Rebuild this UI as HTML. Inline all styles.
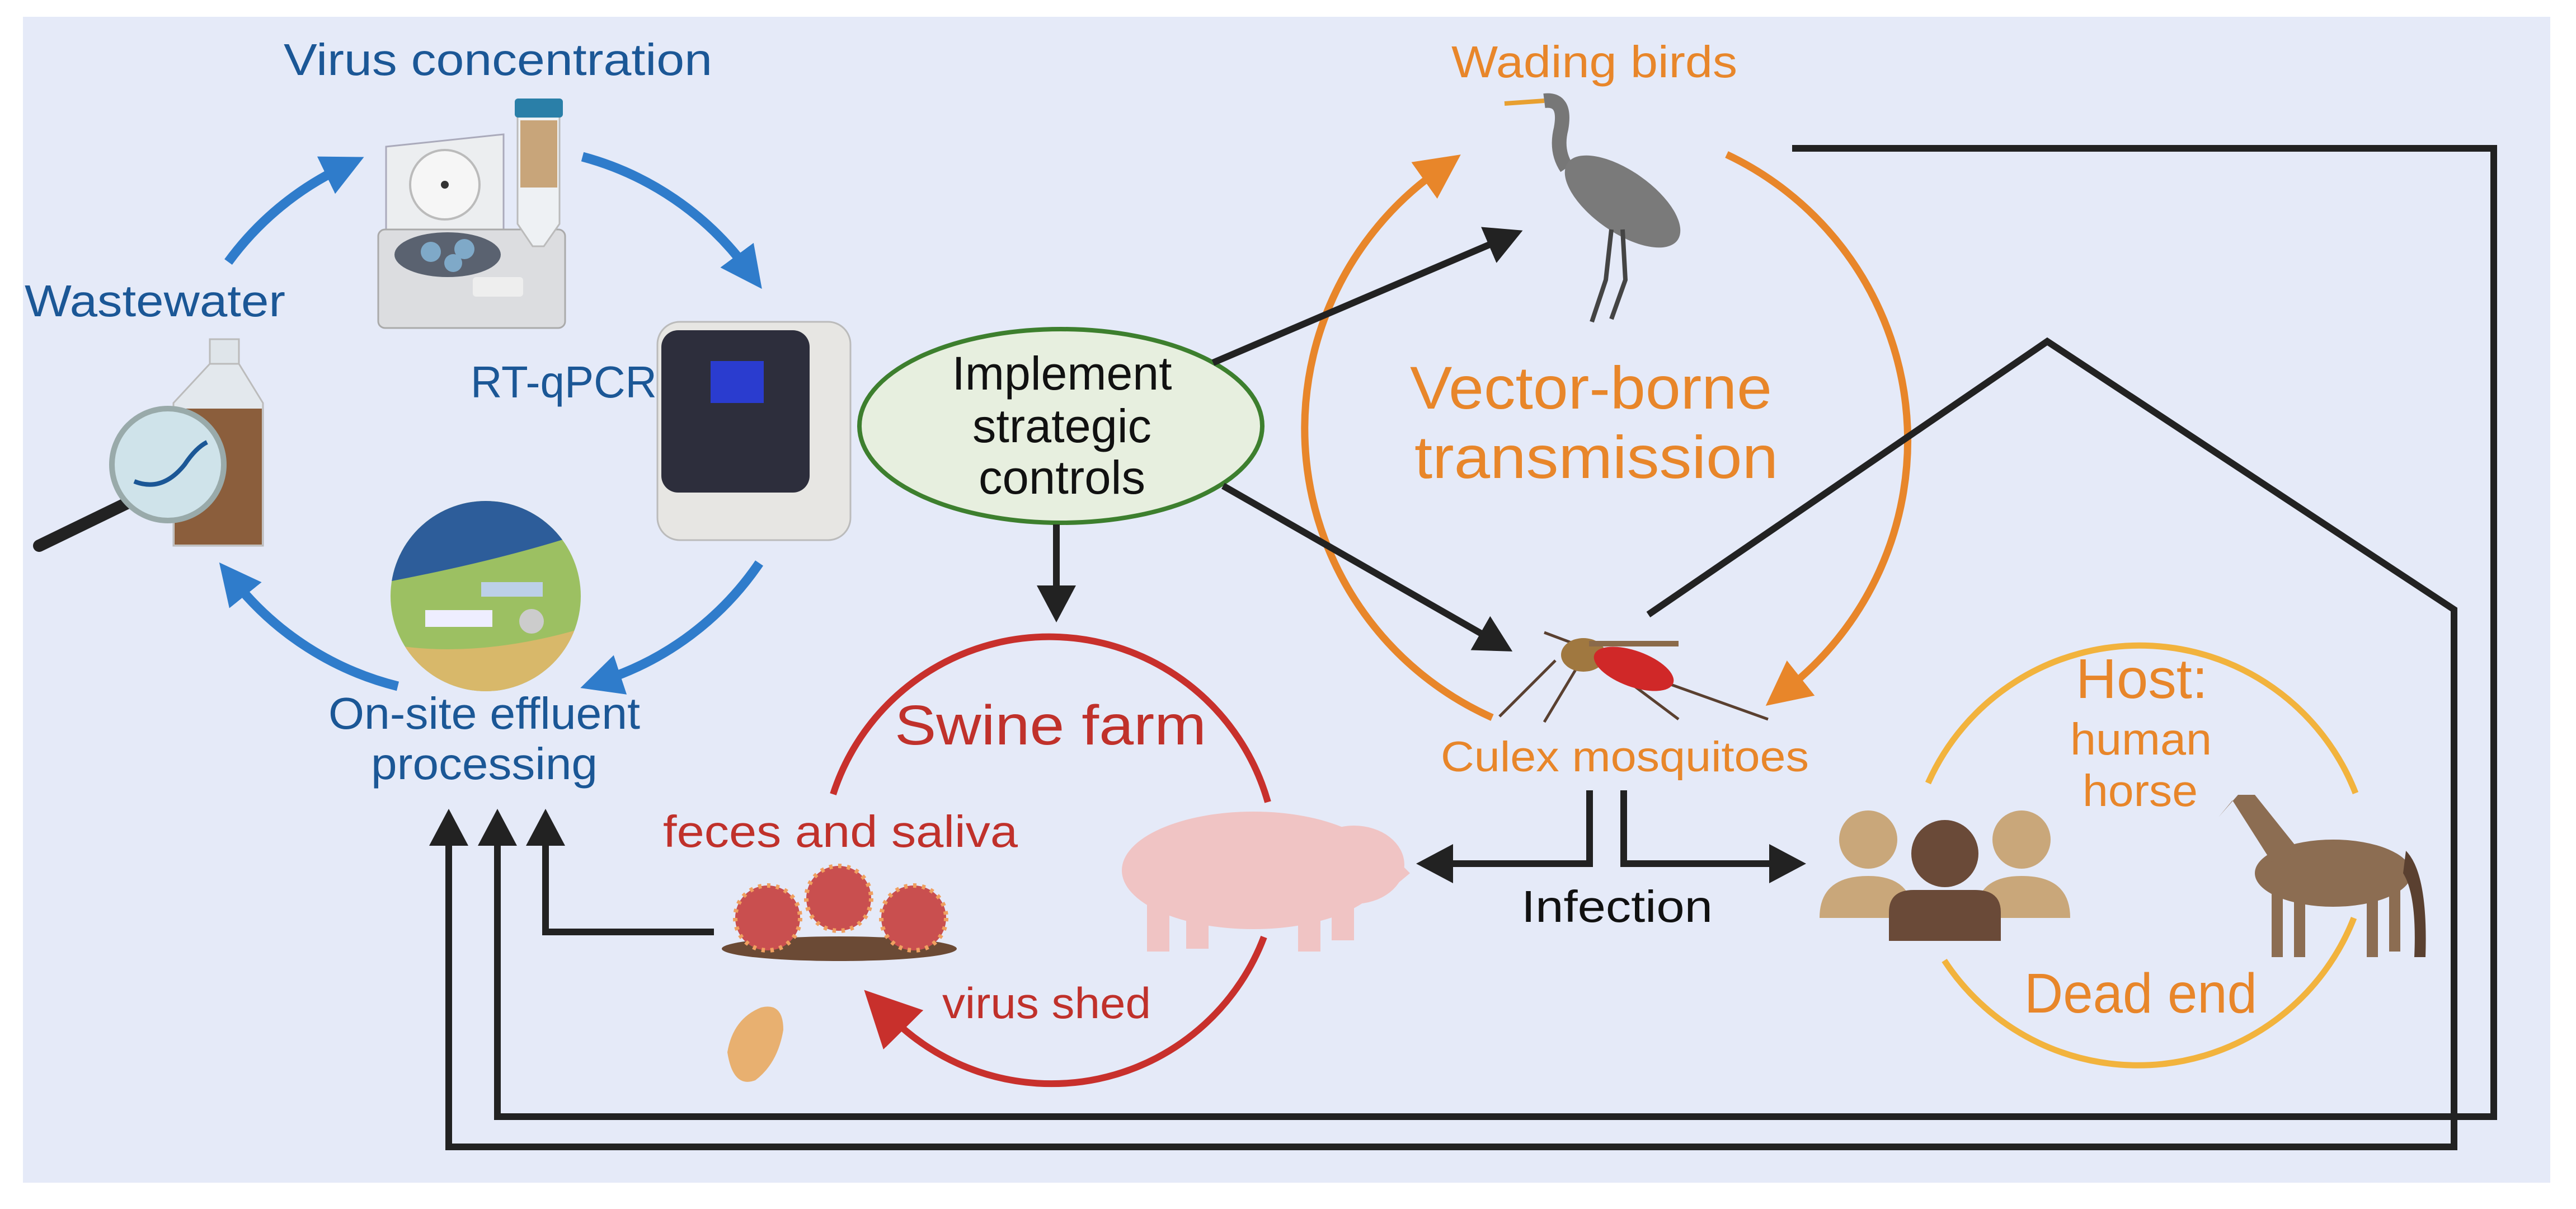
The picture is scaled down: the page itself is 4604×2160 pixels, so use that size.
<!DOCTYPE html>
<html><head><meta charset="utf-8"><style>
html,body{margin:0;padding:0;background:#fff}
svg{display:block}
text{font-family:"Liberation Sans",sans-serif}
</style></head><body>
<svg width="4604" height="2160" viewBox="0 0 4604 2160" xmlns="http://www.w3.org/2000/svg">
<defs>
<marker id="mb" markerUnits="userSpaceOnUse" markerWidth="80" markerHeight="80" refX="30" refY="37" orient="auto"><path d="M0,0 L75,37 L0,74 z" fill="#2f7ccb"/></marker>
<marker id="mk" markerUnits="userSpaceOnUse" markerWidth="80" markerHeight="80" refX="22" refY="35" orient="auto"><path d="M0,0 L66,35 L0,70 z" fill="#222"/></marker>
<marker id="mo" markerUnits="userSpaceOnUse" markerWidth="90" markerHeight="90" refX="30" refY="40" orient="auto"><path d="M0,0 L80,40 L0,80 z" fill="#e8862a"/></marker>
<marker id="mr" markerUnits="userSpaceOnUse" markerWidth="110" markerHeight="110" refX="35" refY="50" orient="auto"><path d="M0,0 L100,50 L0,100 z" fill="#c8302c"/></marker>
<clipPath id="farm"><circle cx="868" cy="1065" r="170"/></clipPath>
</defs>
<rect x="41" y="30" width="4517" height="2083" fill="#e5eaf8"/>

<!-- blue cycle -->
<g fill="none" stroke="#2f7ccb" stroke-width="17">
<path d="M408,468 A540,540 0 0 1 610,300" marker-end="url(#mb)"/>
<path d="M1041,280 A540,540 0 0 1 1335,480" marker-end="url(#mb)"/>
<path d="M1357,1006 A540,540 0 0 1 1080,1215" marker-end="url(#mb)"/>
<path d="M711,1226 A540,540 0 0 1 420,1040" marker-end="url(#mb)"/>
</g>

<!-- centrifuge -->
<g>
<path d="M690,262 L900,240 L900,420 L690,420 z" fill="#eceef0" stroke="#aab" stroke-width="3"/>
<circle cx="795" cy="330" r="62" fill="#f6f6f6" stroke="#bbb" stroke-width="4"/>
<circle cx="795" cy="330" r="7" fill="#333"/>
<rect x="676" y="410" width="334" height="176" rx="12" fill="#dcdde0" stroke="#aaa" stroke-width="3"/>
<ellipse cx="800" cy="455" rx="95" ry="40" fill="#5a6270"/>
<circle cx="770" cy="450" r="18" fill="#7fa9c8"/><circle cx="830" cy="445" r="18" fill="#7fa9c8"/><circle cx="810" cy="470" r="16" fill="#7fa9c8"/>
<rect x="845" y="495" width="90" height="35" rx="6" fill="#eee"/>
<path d="M925,205 L1000,205 L1000,400 L972,440 L952,440 L925,400 z" fill="#eef1f4" stroke="#bbb" stroke-width="3"/>
<rect x="930" y="215" width="66" height="120" fill="#c8a57a"/>
<rect x="920" y="176" width="86" height="34" rx="6" fill="#2a7fa8"/>
</g>

<!-- bottle + magnifier -->
<g>
<rect x="375" y="606" width="52" height="45" fill="#dfe5ea" stroke="#bbb" stroke-width="3"/>
<path d="M375,650 L310,720 L310,975 L470,975 L470,720 L427,650 z" fill="#e3e8ed" stroke="#bbb" stroke-width="3"/>
<rect x="312" y="730" width="156" height="243" fill="#8b5e3c"/>
<line x1="235" y1="895" x2="70" y2="975" stroke="#222" stroke-width="22" stroke-linecap="round"/>
<circle cx="300" cy="830" r="100" fill="#cfe3ea" stroke="#9aa" stroke-width="10"/>
<path d="M240,860 Q290,880 330,830 Q350,800 370,790" fill="none" stroke="#1b5796" stroke-width="8"/>
</g>

<!-- PCR -->
<g>
<rect x="1175" y="575" width="345" height="390" rx="40" fill="#e7e6e3" stroke="#bbb" stroke-width="3"/>
<rect x="1182" y="590" width="265" height="290" rx="30" fill="#2d2e3c"/>
<rect x="1270" y="645" width="95" height="75" fill="#2a3ccf"/>
</g>

<!-- farm photo -->
<g clip-path="url(#farm)">
<rect x="690" y="890" width="360" height="360" fill="#9cc062"/>
<path d="M690,890 L1050,890 L1050,950 Q900,1000 690,1040 z" fill="#2d5d9a"/>
<path d="M690,1150 Q850,1180 1050,1120 L1050,1250 L690,1250 z" fill="#d8b86a"/>
<rect x="760" y="1090" width="120" height="30" fill="#eef" />
<rect x="860" y="1040" width="110" height="26" fill="#bcd0e8"/>
<circle cx="950" cy="1110" r="22" fill="#ccc"/>
</g>

<!-- ellipse -->
<ellipse cx="1896" cy="761" rx="360" ry="173" fill="#e7efdf" stroke="#3d7f2e" stroke-width="8"/>
<g font-size="84" fill="#111" text-anchor="middle">
<text x="1898" y="696" textLength="393" lengthAdjust="spacingAndGlyphs">Implement</text>
<text x="1898" y="790" textLength="320" lengthAdjust="spacingAndGlyphs">strategic</text>
<text x="1898" y="882" textLength="298" lengthAdjust="spacingAndGlyphs">controls</text>
</g>

<!-- orange circle -->
<g fill="none" stroke="#e8862a" stroke-width="13">
<path d="M2667,1282 A565,565 0 0 1 2570,305" marker-end="url(#mo)"/>
<path d="M3086,276 A565,565 0 0 1 3195,1230" marker-end="url(#mo)"/>
</g>

<!-- red circle -->
<g fill="none" stroke="#c8302c" stroke-width="12">
<path d="M1489,1419 A406,406 0 0 1 2266,1433"/>
<path d="M2259,1674 A406,406 0 0 1 1590,1815" marker-end="url(#mr)"/>
</g>

<!-- yellow circle -->
<g fill="none" stroke="#f2b33d" stroke-width="11">
<path d="M3446,1399 A414,414 0 0 1 4210,1417"/>
<path d="M4207,1640 A414,414 0 0 1 3475,1716"/>
</g>

<!-- black connectors -->
<g fill="none" stroke="#222" stroke-width="12">
<path d="M1276,1665 H975 V1489" marker-end="url(#mk)"/>
<path d="M3203,265 H4457 V1995 H889 V1489" marker-end="url(#mk)"/>
<path d="M2946,1098 L3659,610 L4386,1089 V2049 H802 V1489" marker-end="url(#mk)"/>
<path d="M2168,648 L2681,429" marker-end="url(#mk)"/>
<path d="M2186,868 L2665,1142" marker-end="url(#mk)"/>
<path d="M1888,937 V1068" marker-end="url(#mk)"/>
<path d="M2841,1412 V1543 H2575" marker-end="url(#mk)"/>
<path d="M2902,1412 V1543 H3184" marker-end="url(#mk)"/>
</g>

<!-- viruses & mud -->
<ellipse cx="1500" cy="1695" rx="210" ry="22" fill="#6b4a35"/>
<g fill="#c94f4f" stroke="#f0a060" stroke-width="8" stroke-dasharray="6 10">
<circle cx="1372" cy="1640" r="58"/><circle cx="1499" cy="1605" r="58"/><circle cx="1633" cy="1640" r="58"/>
</g>
<path d="M1300,1880 Q1310,1820 1360,1800 Q1400,1790 1400,1840 Q1390,1900 1350,1930 Q1310,1945 1300,1880 z" fill="#e8b070"/>

<!-- pig -->
<g fill="#f0c4c4">
<ellipse cx="2240" cy="1555" rx="235" ry="105"/>
<ellipse cx="2420" cy="1545" rx="90" ry="70"/>
<path d="M2480,1520 L2520,1560 L2490,1585 z"/>
<rect x="2050" y="1590" width="40" height="110"/><rect x="2120" y="1600" width="40" height="95"/>
<rect x="2320" y="1600" width="40" height="100"/><rect x="2380" y="1590" width="40" height="90"/>
</g>

<!-- bird -->
<g>
<path d="M2689,185 L2760,180" stroke="#e8a030" stroke-width="8"/>
<path d="M2760,180 Q2800,175 2790,230 Q2780,270 2800,300" fill="none" stroke="#777" stroke-width="26"/>
<ellipse cx="2900" cy="360" rx="120" ry="55" transform="rotate(35 2900 360)" fill="#7a7a7a"/>
<path d="M2880,410 L2870,500 L2845,575 M2900,410 L2905,500 L2880,570" stroke="#444" stroke-width="8" fill="none"/>
</g>

<!-- mosquito -->
<g>
<path d="M2780,1180 L2680,1280 M2820,1190 L2760,1290 M2900,1210 L3000,1285 M2950,1210 L3160,1285 M2840,1160 L2760,1130" stroke="#5a4030" stroke-width="5" fill="none"/>
<ellipse cx="2830" cy="1170" rx="40" ry="30" fill="#a07840"/>
<ellipse cx="2920" cy="1195" rx="75" ry="32" transform="rotate(20 2920 1195)" fill="#d02828"/>
<path d="M2840,1150 L3000,1150" stroke="#8a6a4a" stroke-width="10"/>
</g>

<!-- people -->
<g>
<circle cx="3339" cy="1500" r="52" fill="#c9a77a"/><path d="M3252,1640 Q3252,1565 3339,1565 Q3420,1565 3420,1640 z" fill="#c9a77a"/>
<circle cx="3613" cy="1500" r="52" fill="#c9a77a"/><path d="M3530,1640 Q3530,1565 3613,1565 Q3700,1565 3700,1640 z" fill="#c9a77a"/>
<circle cx="3476" cy="1525" r="60" fill="#6a4a38"/><path d="M3376,1681 L3376,1630 Q3376,1590 3420,1590 L3530,1590 Q3576,1590 3576,1630 L3576,1681 z" fill="#6a4a38"/>
</g>

<!-- horse -->
<g fill="#8c6d52">
<ellipse cx="4170" cy="1560" rx="140" ry="60"/>
<path d="M4060,1540 L3990,1430 L3965,1460 L4000,1420 L4030,1420 L4110,1520 z"/>
<rect x="4060" y="1580" width="20" height="130"/><rect x="4100" y="1580" width="20" height="130"/>
<rect x="4230" y="1580" width="20" height="130"/><rect x="4270" y="1580" width="20" height="120"/>
<path d="M4300,1520 Q4340,1560 4335,1710 L4315,1710 Q4320,1600 4295,1560 z" fill="#5a4030"/>
</g>

<!-- texts -->
<g fill="#1b5796" font-size="80">
<text x="507" y="134" textLength="766" lengthAdjust="spacingAndGlyphs">Virus concentration</text>
<text x="44" y="565" textLength="466" lengthAdjust="spacingAndGlyphs">Wastewater</text>
<text x="841" y="710" textLength="333" lengthAdjust="spacingAndGlyphs">RT-qPCR</text>
<text x="587" y="1302" textLength="557" lengthAdjust="spacingAndGlyphs">On-site effluent</text>
<text x="663" y="1392" textLength="405" lengthAdjust="spacingAndGlyphs">processing</text>
</g>
<g fill="#c0312b">
<text x="1599" y="1330" font-size="100" textLength="557" lengthAdjust="spacingAndGlyphs">Swine farm</text>
<text x="1185" y="1513" font-size="80" textLength="634" lengthAdjust="spacingAndGlyphs">feces and saliva</text>
<text x="1684" y="1819" font-size="78" textLength="373" lengthAdjust="spacingAndGlyphs">virus shed</text>
</g>
<g fill="#e8862a">
<text x="2594" y="138" font-size="80" textLength="511" lengthAdjust="spacingAndGlyphs">Wading birds</text>
<text x="2520" y="730" font-size="108" textLength="647" lengthAdjust="spacingAndGlyphs">Vector-borne</text>
<text x="2528" y="854" font-size="108" textLength="650" lengthAdjust="spacingAndGlyphs">transmission</text>
<text x="2575" y="1378" font-size="76" textLength="658" lengthAdjust="spacingAndGlyphs">Culex mosquitoes</text>
<text x="3710" y="1247" font-size="100" textLength="236" lengthAdjust="spacingAndGlyphs">Host:</text>
<text x="3700" y="1348" font-size="80" textLength="253" lengthAdjust="spacingAndGlyphs">human</text>
<text x="3722" y="1440" font-size="80" textLength="206" lengthAdjust="spacingAndGlyphs">horse</text>
<text x="3618" y="1809" font-size="100" textLength="416" lengthAdjust="spacingAndGlyphs">Dead end</text>
</g>
<text x="2719" y="1647" font-size="80" fill="#111" textLength="342" lengthAdjust="spacingAndGlyphs">Infection</text>
</svg>
</body></html>
